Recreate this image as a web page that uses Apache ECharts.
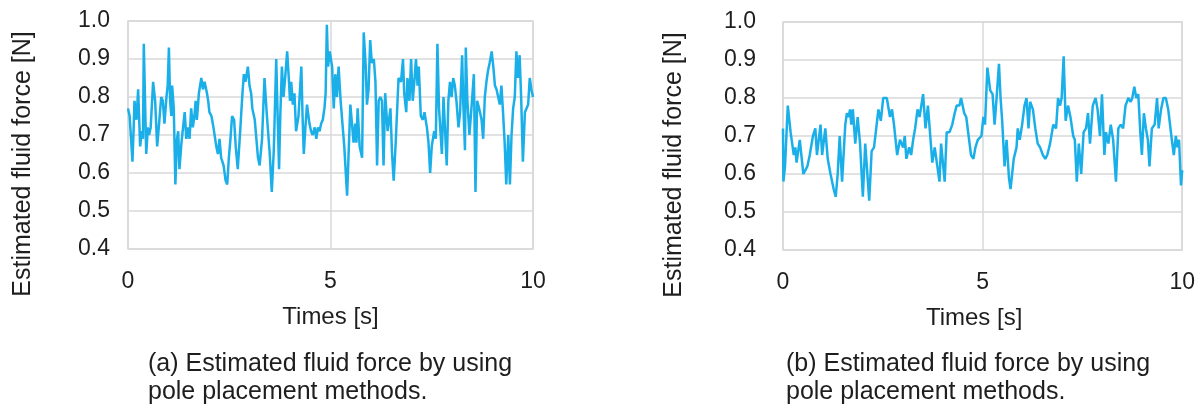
<!DOCTYPE html>
<html>
<head>
<meta charset="utf-8">
<script src="https://cdn.jsdelivr.net/npm/echarts@6/dist/echarts.min.js"></script>
<style>
html,body{margin:0;padding:0;background:#fff;}
#chart{width:1198px;height:410px;}
</style>
</head>
<body>
<div id="chart"></div>
<script>
// ---- Data ----
const xTicks = [0, 5, 10];
const yTicks = [0.4, 0.5, 0.6, 0.7, 0.8, 0.9, 1.0];

const timesA = [0,0.04,0.11,0.14,0.16,0.21,0.25,0.30,0.34,0.37,0.39,0.45,0.49,0.52,0.56,0.62,0.67,0.72,0.76,0.82,0.86,0.90,0.95,0.98,1.01,1.04,1.07,1.09,1.13,1.17,1.21,1.24,1.27,1.32,1.36,1.40,1.44,1.48,1.52,1.56,1.60,1.64,1.67,1.70,1.73,1.75,1.81,1.85,1.89,1.95,1.98,2.01,2.06,2.11,2.18,2.22,2.26,2.30,2.36,2.41,2.45,2.49,2.53,2.57,2.62,2.66,2.71,2.77,2.82,2.86,2.90,2.96,3.00,3.04,3.07,3.13,3.17,3.21,3.25,3.31,3.37,3.43,3.50,3.55,3.60,3.63,3.66,3.69,3.73,3.76,3.80,3.84,3.88,3.93,3.97,4.00,4.03,4.07,4.11,4.15,4.21,4.28,4.31,4.34,4.38,4.42,4.48,4.52,4.56,4.61,4.65,4.69,4.73,4.77,4.81,4.85,4.88,4.91,4.94,4.98,5.04,5.08,5.12,5.16,5.20,5.25,5.31,5.34,5.41,5.45,5.49,5.53,5.57,5.61,5.64,5.67,5.72,5.78,5.82,5.87,5.90,5.94,5.98,6.02,6.07,6.11,6.15,6.19,6.23,6.27,6.31,6.35,6.41,6.48,6.52,6.56,6.61,6.68,6.74,6.79,6.82,6.87,6.90,6.95,6.99,7.03,7.07,7.11,7.15,7.18,7.23,7.28,7.32,7.38,7.42,7.46,7.50,7.56,7.60,7.64,7.68,7.75,7.79,7.83,7.87,7.91,7.95,7.99,8.03,8.07,8.11,8.16,8.20,8.25,8.28,8.32,8.34,8.38,8.43,8.48,8.54,8.58,8.62,8.67,8.73,8.77,8.81,8.85,8.89,8.93,8.98,9.02,9.06,9.10,9.14,9.18,9.22,9.26,9.30,9.34,9.39,9.43,9.47,9.51,9.55,9.59,9.63,9.67,9.71,9.75,9.80,9.84,9.88,9.92,9.96,10.0];
const forceA = [0.77,0.75,0.63,0.72,0.79,0.74,0.82,0.67,0.71,0.69,0.94,0.65,0.72,0.70,0.72,0.84,0.79,0.67,0.72,0.80,0.79,0.73,0.80,0.83,0.93,0.79,0.75,0.83,0.77,0.57,0.69,0.71,0.61,0.68,0.72,0.76,0.69,0.72,0.69,0.77,0.72,0.75,0.79,0.74,0.78,0.81,0.85,0.82,0.84,0.81,0.79,0.76,0.75,0.72,0.67,0.65,0.69,0.64,0.62,0.58,0.57,0.64,0.69,0.75,0.74,0.67,0.61,0.71,0.80,0.86,0.84,0.88,0.83,0.81,0.77,0.74,0.69,0.64,0.62,0.69,0.85,0.75,0.65,0.55,0.66,0.78,0.90,0.77,0.61,0.75,0.88,0.80,0.85,0.92,0.85,0.79,0.84,0.78,0.81,0.71,0.75,0.88,0.75,0.65,0.72,0.78,0.73,0.71,0.70,0.72,0.69,0.72,0.71,0.73,0.74,0.77,0.81,0.99,0.88,0.92,0.88,0.77,0.86,0.80,0.88,0.79,0.71,0.67,0.54,0.66,0.78,0.78,0.68,0.73,0.68,0.77,0.67,0.64,0.97,0.88,0.78,0.82,0.95,0.89,0.90,0.84,0.62,0.79,0.80,0.79,0.62,0.81,0.71,0.77,0.65,0.58,0.68,0.85,0.84,0.90,0.81,0.76,0.85,0.79,0.90,0.79,0.84,0.90,0.83,0.88,0.75,0.74,0.76,0.72,0.68,0.60,0.67,0.71,0.69,0.94,0.77,0.65,0.80,0.80,0.62,0.79,0.84,0.80,0.85,0.83,0.79,0.72,0.76,0.91,0.78,0.66,0.93,0.79,0.70,0.77,0.86,0.55,0.79,0.77,0.74,0.69,0.80,0.84,0.87,0.89,0.92,0.88,0.83,0.82,0.80,0.78,0.83,0.76,0.68,0.57,0.70,0.57,0.70,0.77,0.80,0.92,0.85,0.91,0.79,0.63,0.76,0.77,0.78,0.85,0.82,0.80];

const timesB = [0,0.01,0.05,0.12,0.19,0.27,0.31,0.34,0.42,0.51,0.56,0.61,0.67,0.71,0.75,0.81,0.85,0.94,0.98,1.06,1.12,1.19,1.27,1.32,1.37,1.42,1.48,1.56,1.60,1.64,1.68,1.71,1.75,1.81,1.87,1.93,2.00,2.06,2.16,2.22,2.28,2.39,2.45,2.51,2.60,2.68,2.73,2.78,2.86,2.93,3.01,3.05,3.09,3.16,3.21,3.26,3.31,3.37,3.42,3.51,3.57,3.63,3.74,3.80,3.92,3.96,4.05,4.10,4.17,4.24,4.30,4.35,4.42,4.46,4.54,4.59,4.71,4.77,4.82,4.88,4.97,5.02,5.06,5.12,5.19,5.25,5.30,5.35,5.41,5.45,5.49,5.55,5.60,5.66,5.70,5.78,5.85,5.88,5.93,5.99,6.05,6.10,6.15,6.19,6.26,6.32,6.38,6.44,6.51,6.57,6.62,6.69,6.77,6.84,6.89,6.94,6.98,7.03,7.08,7.14,7.20,7.27,7.31,7.36,7.41,7.47,7.53,7.59,7.64,7.69,7.76,7.83,7.88,7.94,7.99,8.05,8.09,8.15,8.21,8.27,8.34,8.40,8.46,8.52,8.58,8.65,8.71,8.75,8.80,8.85,8.90,8.95,8.99,9.04,9.09,9.14,9.18,9.24,9.31,9.37,9.41,9.47,9.53,9.59,9.65,9.74,9.79,9.84,9.88,9.92,9.97,10.0];
const forceB = [0.72,0.58,0.62,0.78,0.71,0.65,0.67,0.63,0.69,0.60,0.60,0.62,0.65,0.65,0.70,0.72,0.65,0.73,0.65,0.72,0.64,0.60,0.56,0.54,0.60,0.70,0.58,0.73,0.76,0.75,0.77,0.73,0.77,0.68,0.75,0.68,0.54,0.68,0.53,0.66,0.67,0.77,0.74,0.80,0.80,0.75,0.77,0.73,0.65,0.69,0.67,0.70,0.64,0.67,0.65,0.69,0.72,0.77,0.75,0.81,0.72,0.78,0.63,0.67,0.58,0.68,0.58,0.71,0.71,0.73,0.76,0.78,0.78,0.80,0.76,0.75,0.65,0.64,0.67,0.69,0.70,0.75,0.73,0.88,0.82,0.81,0.73,0.80,0.89,0.80,0.74,0.62,0.69,0.59,0.56,0.64,0.67,0.72,0.69,0.73,0.78,0.80,0.72,0.79,0.77,0.72,0.68,0.67,0.65,0.64,0.65,0.68,0.73,0.72,0.80,0.78,0.80,0.91,0.74,0.78,0.75,0.70,0.69,0.58,0.68,0.60,0.71,0.72,0.76,0.68,0.78,0.80,0.77,0.70,0.81,0.65,0.71,0.68,0.73,0.69,0.58,0.72,0.73,0.72,0.78,0.80,0.79,0.80,0.83,0.80,0.81,0.71,0.65,0.76,0.72,0.69,0.62,0.72,0.73,0.80,0.72,0.77,0.80,0.80,0.77,0.69,0.65,0.70,0.67,0.69,0.57,0.61];

const xName = 'Times [s]';
const yName = 'Estimated fluid force [N]';
const captionA = '(a) Estimated fluid force by using\npole placement methods.';
const captionB = '(b) Estimated fluid force by using\npole placement methods.';

// ---- Styling ----
const FONT = '"Liberation Sans", Arial, sans-serif';
const TXT = '#1e1e1e';
const GRIDC = '#d9d9d9';
const LINEC = '#1aafe9';

function xAxisFor(gi, namePad) {
  return {
    type: 'value', gridIndex: gi, min: 0, max: 10, interval: 5,
    axisLine: {show: false}, axisTick: {show: false},
    axisLabel: {color: TXT, fontSize: 23, fontFamily: FONT, margin: 21,
      formatter: v => xTicks.includes(v) ? String(v) : ''},
    splitLine: {show: true, lineStyle: {color: GRIDC, width: 1.5}},
    name: xName, nameLocation: 'middle', nameGap: 56,
    nameTextStyle: {color: TXT, fontSize: 24, fontFamily: FONT, padding: namePad}
  };
}
function yAxisFor(gi, labelMargin, nameGap) {
  return {
    type: 'value', gridIndex: gi, min: 0.4, max: 1.0, interval: 0.1,
    axisLine: {show: false}, axisTick: {show: false},
    axisLabel: {color: TXT, fontSize: 23, fontFamily: FONT, margin: labelMargin,
      formatter: v => v.toFixed(1)},
    splitLine: {show: true, lineStyle: {color: GRIDC, width: 1.5}},
    name: yName, nameLocation: 'middle', nameGap: nameGap, nameRotate: 90,
    nameTextStyle: {color: TXT, fontSize: 25, fontFamily: FONT, padding: [0, 58, 0, 0]}
  };
}

const chart = echarts.init(document.getElementById('chart'), null, {renderer: 'canvas'});
chart.setOption({
  animation: false,
  backgroundColor: '#ffffff',
  title: [
    {text: captionA, left: 148, top: 350, padding: 0,
     textStyle: {color: TXT, fontSize: 25, fontWeight: 'normal', fontFamily: FONT, lineHeight: 28}},
    {text: captionB, left: 786, top: 350, padding: 0,
     textStyle: {color: TXT, fontSize: 25, fontWeight: 'normal', fontFamily: FONT, lineHeight: 28}}
  ],
  grid: [
    {left: 128, top: 21, width: 405, height: 228, show: true, borderColor: GRIDC, borderWidth: 1.5},
    {left: 783, top: 22, width: 405, height: 228, show: true, borderColor: GRIDC, borderWidth: 1.5}
  ],
  xAxis: [xAxisFor(0, [0, 0, 0, 0]), xAxisFor(1, [0, 17, 0, 0])],
  yAxis: [yAxisFor(0, 18, 92), yAxisFor(1, 27, 96)],
  series: [
    {type: 'line', xAxisIndex: 0, yAxisIndex: 0, showSymbol: false, smooth: false,
     lineStyle: {color: LINEC, width: 2.5}, itemStyle: {color: LINEC},
     data: timesA.map((t, i) => [t, forceA[i]])},
    {type: 'line', xAxisIndex: 1, yAxisIndex: 1, showSymbol: false, smooth: false,
     lineStyle: {color: LINEC, width: 2.5}, itemStyle: {color: LINEC},
     data: timesB.map((t, i) => [t, forceB[i]])}
  ]
});
</script>
</body>
</html>
